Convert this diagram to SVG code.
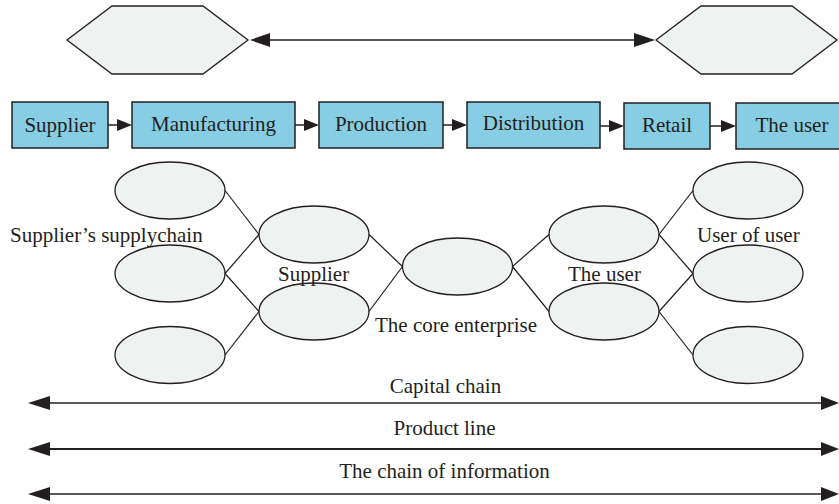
<svg xmlns="http://www.w3.org/2000/svg" width="839" height="504" viewBox="0 0 839 504">
<defs>
<style>
.t{font-family:"Liberation Serif","Times New Roman",serif;font-size:21px;fill:#231f20}
.m{text-anchor:middle}
.box{fill:#87cde3;stroke:#231f20;stroke-width:1.5}
.hex{fill:#eef2f1;stroke:#231f20;stroke-width:1.3}
.el{fill:#eef2f1;stroke:#231f20;stroke-width:1.3}
.ln{stroke:#231f20;stroke-width:1.2;fill:none}
.ar{stroke:#231f20;stroke-width:1.5;fill:none}
.hd{fill:#231f20}
</style>
</defs>
<rect width="839" height="504" fill="#ffffff"/>

<g id="hex-left"><polygon class="hex" points="67,40 112,6 203,6 248,40 203,74 112,74"/></g>
<g id="hex-right"><polygon class="hex" points="656,40 701,6 792,6 837,40 792,74 701,74"/></g>

<g id="box-supplier"><rect class="box" x="12" y="102" width="96" height="46"/><text class="t m" x="60" y="132">Supplier</text></g>
<g id="box-manufacturing"><rect class="box" x="132" y="102" width="163" height="46"/><text class="t m" x="213.5" y="131">Manufacturing</text></g>
<g id="box-production"><rect class="box" x="319" y="102" width="124" height="46"/><text class="t m" x="381" y="131">Production</text></g>
<g id="box-distribution"><rect class="box" x="467" y="102" width="133" height="46"/><text class="t m" x="533.5" y="130">Distribution</text></g>
<g id="box-retail"><rect class="box" x="624" y="103" width="86" height="46"/><text class="t m" x="667" y="132">Retail</text></g>
<g id="box-theuser"><rect class="box" x="736" y="103" width="110" height="46"/><text class="t m" x="792" y="132">The user</text></g>

<g id="ss1"><ellipse class="el" cx="170" cy="190.5" rx="55" ry="28.5"/></g>
<g id="ss2"><ellipse class="el" cx="170" cy="273.5" rx="55" ry="28.5"/></g>
<g id="ss3"><ellipse class="el" cx="170" cy="355" rx="55" ry="28.5"/></g>
<g id="sup1"><ellipse class="el" cx="314" cy="234.5" rx="55" ry="28.5"/></g>
<g id="sup2"><ellipse class="el" cx="314" cy="311.5" rx="55" ry="28.5"/></g>
<g id="core"><ellipse class="el" cx="457.5" cy="266.5" rx="55" ry="28.5"/></g>
<g id="usr1"><ellipse class="el" cx="604" cy="234.5" rx="55" ry="28.5"/></g>
<g id="usr2"><ellipse class="el" cx="604" cy="311.5" rx="55" ry="28.5"/></g>
<g id="uu1"><ellipse class="el" cx="748" cy="190.5" rx="55" ry="28.5"/></g>
<g id="uu2"><ellipse class="el" cx="748" cy="273.5" rx="55" ry="28.5"/></g>
<g id="uu3"><ellipse class="el" cx="748" cy="355" rx="55" ry="28.5"/></g>

<g id="labels">
<text class="t" x="10" y="242">Supplier’s supplychain</text>
<text class="t" x="278" y="281">Supplier</text>
<text class="t" x="375" y="332">The core enterprise</text>
<text class="t" x="568" y="281">The user</text>
<text class="t" x="697" y="242">User of user</text>
<text class="t m" x="445.5" y="393">Capital chain</text>
<text class="t m" x="444.5" y="435">Product line</text>
<text class="t m" x="444.5" y="478">The chain of information</text>
</g>

<g id="connectors">
<line class="ln" x1="225" y1="190.5" x2="259" y2="234.5"/>
<line class="ln" x1="225" y1="273.5" x2="259" y2="234.5"/>
<line class="ln" x1="225" y1="273.5" x2="259" y2="311.5"/>
<line class="ln" x1="225" y1="355" x2="259" y2="311.5"/>
<line class="ln" x1="369" y1="234.5" x2="402.5" y2="266.5"/>
<line class="ln" x1="369" y1="311.5" x2="402.5" y2="266.5"/>
<line class="ln" x1="512.5" y1="266.5" x2="549" y2="234.5"/>
<line class="ln" x1="512.5" y1="266.5" x2="549" y2="311.5"/>
<line class="ln" x1="659" y1="234.5" x2="693" y2="190.5"/>
<line class="ln" x1="659" y1="234.5" x2="693" y2="273.5"/>
<line class="ln" x1="659" y1="311.5" x2="693" y2="273.5"/>
<line class="ln" x1="659" y1="311.5" x2="693" y2="355"/>

<line class="ar" x1="268" y1="40" x2="636" y2="40"/>
<polygon class="hd" points="250,40 270,33 270,47"/>
<polygon class="hd" points="655,40 634,33 634,47"/>

<line class="ar" x1="108" y1="125" x2="118" y2="125"/>
<polygon class="hd" points="132,125 117,119 117,131"/>
<line class="ar" x1="295" y1="125" x2="305" y2="125"/>
<polygon class="hd" points="319,125 304,119 304,131"/>
<line class="ar" x1="443" y1="125" x2="453" y2="125"/>
<polygon class="hd" points="467,125 452,119 452,131"/>
<line class="ar" x1="600" y1="126" x2="610" y2="126"/>
<polygon class="hd" points="624,126 609,120 609,132"/>
<line class="ar" x1="710" y1="126" x2="722" y2="126"/>
<polygon class="hd" points="736,126 721,120 721,132"/>

<line class="ar" x1="48" y1="403" x2="823" y2="403"/>
<polygon class="hd" points="28,403 50,396 50,410"/>
<polygon class="hd" points="839,403 821,396 821,410"/>
<line class="ar" x1="48" y1="449" x2="823" y2="449" style="stroke-width:2"/>
<polygon class="hd" points="28,449 50,442 50,456"/>
<polygon class="hd" points="839,449 821,442 821,456"/>
<line class="ar" x1="48" y1="494" x2="823" y2="494"/>
<polygon class="hd" points="28,494 50,487 50,501"/>
<polygon class="hd" points="839,494 821,487 821,501"/>
</g>
</svg>
